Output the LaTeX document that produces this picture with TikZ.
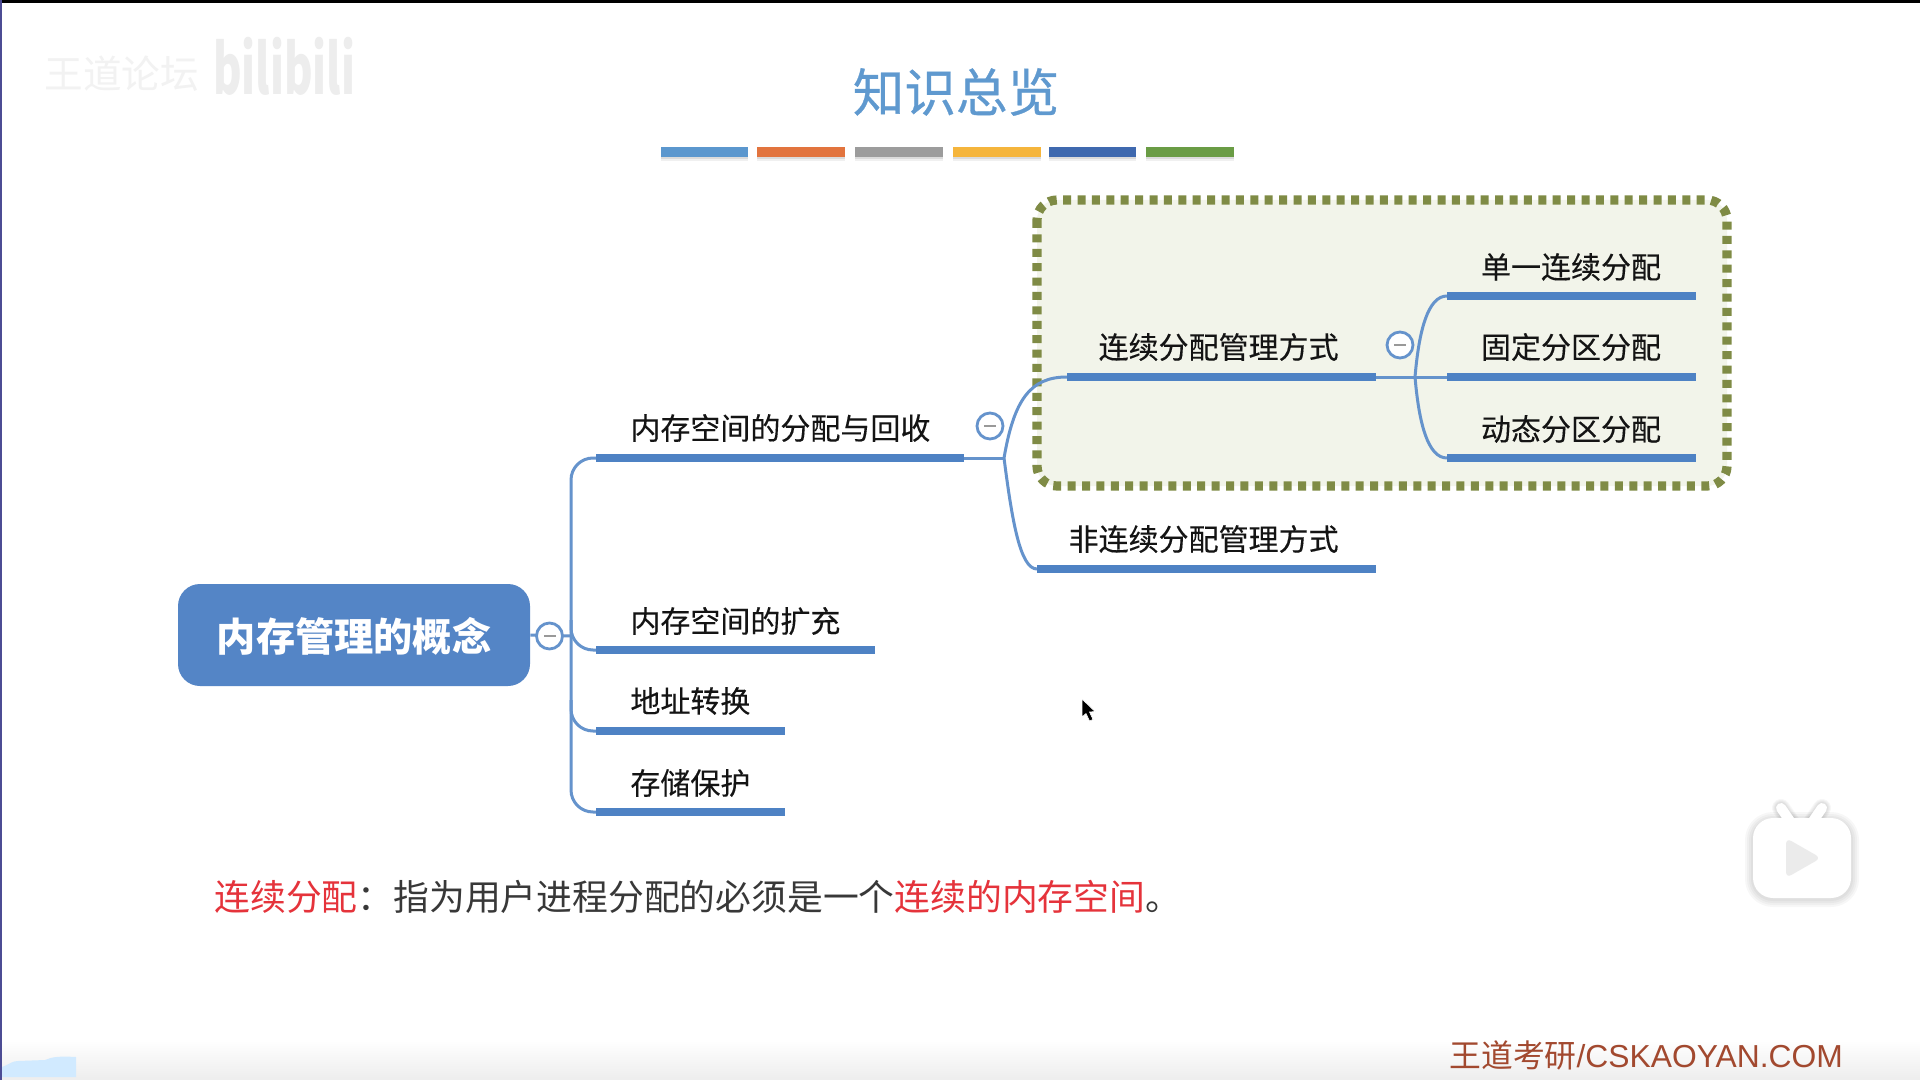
\documentclass[tikz,border=0pt]{standalone}
\usepackage{fontspec}
\setmainfont{Noto Sans CJK SC}
\newfontfamily\latinf{Liberation Sans}
\newfontfamily\medf[FakeBold=0.25]{Noto Sans CJK SC}
\newfontfamily\ttlf[FakeBold=0.6]{Noto Sans CJK SC}
\usetikzlibrary{shadows,fadings}
\definecolor{barblue}{HTML}{4E82C4}
\definecolor{thinblue}{HTML}{6593CC}
\definecolor{rootblue}{HTML}{5485C6}
\definecolor{ttl}{HTML}{5F99CF}
\definecolor{boxfill}{HTML}{F2F4EA}
\definecolor{boxdot}{HTML}{7F8B45}
\definecolor{redt}{HTML}{E5333B}
\definecolor{foot}{HTML}{A2492F}
\tikzset{
  x=0.5pt,y=-0.5pt,
  lbl/.style={inner sep=0,text=black!92,font=\medf\fontsize{15}{15}\selectfont},
  bar/.style={line width=4pt,barblue},
  conn/.style={line width=1.5pt,thinblue,rounded corners=11pt},
  curve/.style={line width=1.5pt,thinblue},
  minusc/.style={circle,draw=thinblue,line width=1.4pt,fill=white,minimum size=13pt,inner sep=0,
     path picture={\fill[black!40] ([xshift=-3pt,yshift=-.6pt]path picture bounding box.center) rectangle ([xshift=3pt,yshift=.6pt]path picture bounding box.center);}},
  colorbar/.style={line width=5pt},
  softline/.style={line cap=round,line join=round,black,opacity=.03},
}
\begin{document}
\begin{tikzpicture}
\useasboundingbox (0,0) rectangle (1920,1080);
\fill[white] (0,0) rectangle (1920,1080);
% page edges and bottom band
\shade[top color=white,bottom color=black!7] (0,1040) rectangle (1920,1080);
\fill[black] (0,0) rectangle (1920,3.5);
\fill[black!60!blue!70] (0,0) rectangle (2,1080);
\fill[blue!45!cyan!18] (2,1077) -- (2,1067) .. controls (10,1064) and (12,1061) .. (18,1061) -- (45,1060) .. controls (52,1057) and (58,1056) .. (76,1057) -- (76,1077) -- cycle;
% watermark
\node[inner sep=0,text=black!5,anchor=west] (wmark) at (44,74) {\fontsize{19.3}{19.3}\selectfont 王道论坛};
\node[inner sep=0,text=black!7,anchor=west,yscale=1.38,xscale=.87] (bili) at (213,66) {\fontsize{25}{25}\selectfont\bfseries bilibili};
% title
\node[inner sep=0,text=ttl,font=\ttlf\fontsize{25.8}{25.8}\selectfont] (title) at (956,92) {知识总览};
% colour bars
\foreach \a/\b/\c/\n in {661/748/5B97CE/1,757/845/E2743E/2,855/943/9C9C9C/3,953/1041/F5B53C/4,1049/1136/3F69AF/5,1146/1234/6A9C45/6}{
  \definecolor{cb}{HTML}{\c}
  \coordinate (cbl\n) at (\a,152);
  \coordinate (cbr\n) at (\b,152);
  \draw[line width=3pt,black!6] ([yshift=-3.2pt]cbl\n) -- ([yshift=-3.2pt]cbr\n);
  \draw[line width=1.6pt,black!14] ([yshift=-2.8pt]cbl\n) -- ([yshift=-2.8pt]cbr\n);
  \draw[colorbar,cb] (cbl\n) -- (cbr\n);
}
% dotted frame
\draw[fill=boxfill,draw=boxdot,line width=4.6pt,dash pattern=on 4pt off 3.2pt,rounded corners=10pt] (1037,200) rectangle (1727,486);
% coordinates
\coordinate (tA) at (571,458);
\coordinate (tB) at (571,620);
\coordinate (tC) at (571,700);
\coordinate (tD) at (571,812);
\coordinate (trootj) at (571,636);
\coordinate (b1s) at (596,458); \coordinate (b1e) at (964,458);
\coordinate (b2s) at (596,650); \coordinate (b2e) at (875,650);
\coordinate (b3s) at (596,731); \coordinate (b3e) at (785,731);
\coordinate (b4s) at (596,812); \coordinate (b4e) at (785,812);
\coordinate (j2) at (1004,458);
\coordinate (c1s) at (1067,377); \coordinate (c1e) at (1376,377);
\coordinate (c2s) at (1037,569); \coordinate (c2e) at (1376,569);
\coordinate (j3) at (1415,377);
\coordinate (d1s) at (1447,296); \coordinate (d1e) at (1696,296);
\coordinate (d2s) at (1447,377); \coordinate (d2e) at (1696,377);
\coordinate (d3s) at (1447,458); \coordinate (d3e) at (1696,458);
% root
\node[fill=rootblue,rounded corners=11pt,minimum width=176pt,minimum height=51pt,inner sep=0,text=white,font=\fontsize{19.6}{19.6}\selectfont\bfseries] (root) at (354,635) {\raisebox{-8.4pt}[0pt][0pt]{内存管理的概念}};
% connectors
\draw[conn] (b1s) -- (tA) -- (tD) -- (b4s);
\draw[conn] (tB) |- (b2s);
\draw[conn] (tC) |- (b3s);
\draw[curve] (root.east) -- (trootj);
\draw[curve] (b1e) -- (j2);
\draw[curve] (j2) .. controls (1014,400) and (1030,377) .. (c1s);
\draw[curve] (j2) .. controls (1012,520) and (1020,569) .. (c2s);
\draw[curve] (c1e) -- (d2s);
\draw[curve] (j3) .. controls (1419,330) and (1428,296) .. (d1s);
\draw[curve] (j3) .. controls (1419,424) and (1428,458) .. (d3s);
% bars
\foreach \p in {b1,b2,b3,b4,c1,c2,d1,d2,d3}{\draw[bar] (\p s) -- (\p e);}
% minus buttons
\node[minusc] (m1) at (549.5,636) {};
\node[minusc] (m2) at (990,426) {};
\node[minusc] (m3) at (1400,345) {};
% labels
\node[lbl,anchor=west] (l1) at (630,428) {内存空间的分配与回收};
\node[lbl,anchor=west] (l2) at (630,621) {内存空间的扩充};
\node[lbl,anchor=west] (l3) at (630,701) {地址转换};
\node[lbl,anchor=west] (l4) at (630,783) {存储保护};
\node[lbl,anchor=east] (l5) at (1339,347) {连续分配管理方式};
\node[lbl,anchor=east] (l6) at (1339,539) {非连续分配管理方式};
\node[lbl] (l7) at (1571,267) {单一连续分配};
\node[lbl] (l8) at (1571,347) {固定分区分配};
\node[lbl] (l9) at (1571,429) {动态分区分配};
% sentence
\node[inner sep=0,anchor=west,text=black!78,font=\fontsize{17.9}{17.9}\selectfont] (sent) at (214,897) {\textcolor{redt}{连续分配}：指为用户进程分配的必须是一个\textcolor{redt}{连续的内存空间}。};
% footer
\node[inner sep=0,anchor=west,text=foot,font=\fontsize{15.9}{15.9}\selectfont] (footer) at (1449,1055) {王道考研{\latinf /CSKAOYAN.COM}};
% cursor
\fill[black,draw=white,line width=.3pt] (1082,699) -- (1082,717) -- (1086,713.5) -- (1089.5,721) -- (1093,719.5) -- (1089.5,712) -- (1095,711.5) -- cycle;
% tv icon: soft shadow, then white body
\foreach \w in {8,6,4,2}{
  \draw[softline,line width=\w pt,rounded corners=10pt] (1753,820) rectangle (1851,899);
  \draw[softline,line width=5pt+\w pt*0.5] (1781,808) -- (1792,824);
  \draw[softline,line width=5pt+\w pt*0.5] (1822,808) -- (1811,824);
}
\draw[white,line width=5pt,line cap=round] (1781,808) -- (1792,824);
\draw[white,line width=5pt,line cap=round] (1822,808) -- (1811,824);
\fill[white,rounded corners=10pt] (1753,818) rectangle (1851,898);
\fill[black!8,rounded corners=3pt] (1786,838) -- (1821,858) -- (1786,878) -- cycle;
\end{tikzpicture}
\end{document}
